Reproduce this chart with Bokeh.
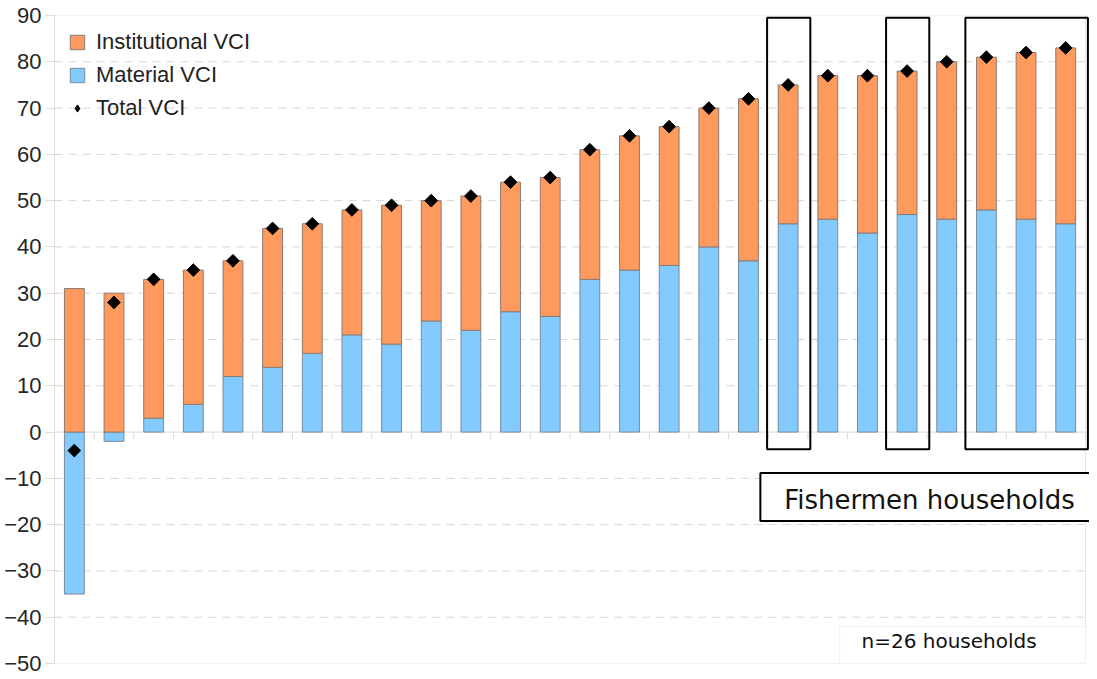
import math
from bokeh.plotting import figure
from bokeh.models import Range1d, LegendItem, Legend, Label, FixedTicker
from bokeh.embed import file_html
from bokeh.resources import INLINE

# ---- data ----
households = list(range(1, 27))
material = [-35, -2, 3, 6, 12, 14, 17, 21, 19, 24, 22, 26, 25, 33, 35, 36, 40, 37,
            45, 46, 43, 47, 46, 48, 46, 45]
total = [-4, 28, 33, 35, 37, 44, 45, 48, 49, 50, 51, 54, 55, 61, 64, 66, 70, 72,
         75, 77, 77, 78, 80, 81, 82, 83]
institutional = [t - m for t, m in zip(total, material)]
y_ticks = list(range(-50, 100, 10))
fishermen_groups = [(19, 19), (22, 22), (24, 26)]

inst_bottom = [max(m, 0) for m in material]
inst_top = [b + i for b, i in zip(inst_bottom, institutional)]

ORANGE = "#ff9a5e"
BLUE = "#83caff"
FONT = "Liberation Sans"

n = len(households)
x_lo, x_hi = 0.5, n + 0.5

p = figure(width=1089, height=677, output_backend="svg", toolbar_location=None,
           x_range=Range1d(0.5, 26.6), y_range=Range1d(-50, 90),
           x_axis_location=None, min_border_left=54, min_border_right=0,
           min_border_top=15, min_border_bottom=14)
p.outline_line_color = None
p.xgrid.visible = False
p.ygrid.visible = False
p.background_fill_color = "white"

# y axis
ax = p.yaxis[0]
ax.ticker = FixedTicker(ticks=y_ticks)
ax.axis_line_color = "#dcdcdc"
ax.major_tick_line_color = "#dcdcdc"
ax.major_tick_out = 9
ax.major_tick_in = 0
ax.minor_tick_line_color = None
ax.major_label_standoff = 4
ax.major_label_text_font = FONT
ax.major_label_text_font_size = "22px"
ax.major_label_text_color = "#262626"

# grid lines
dashed = [y for y in y_ticks if y not in (y_ticks[0], 0, y_ticks[-1])]
p.segment(x0=[x_lo] * len(dashed), x1=[x_hi] * len(dashed), y0=dashed, y1=dashed,
          line_color="#d6d6d6", line_dash="8 6", line_width=1)
solid = [y_ticks[0], y_ticks[-1]]
p.segment(x0=[x_lo] * 2, x1=[x_hi] * 2, y0=solid, y1=solid,
          line_color="#e6e6e6", line_width=1)
p.segment(x0=[x_hi], x1=[x_hi], y0=[y_ticks[0]], y1=[y_ticks[-1]],
          line_color="#e6e6e6", line_width=1)

# zero axis with category ticks
p.segment(x0=[x_lo], x1=[x_hi], y0=[0], y1=[0], line_color="#d9d9d9", line_width=1)
bounds = [x_lo + k for k in range(n + 1)]
p.segment(x0=bounds, x1=bounds, y0=[0] * len(bounds), y1=[-1.5] * len(bounds),
          line_color="#e2d6d6", line_width=1)

# bars
r_mat = p.vbar(x=households, width=0.5, bottom=0, top=material,
               fill_color=BLUE, line_color="#7a8a99", line_width=1)
r_inst = p.vbar(x=households, width=0.5, bottom=inst_bottom, top=inst_top,
                fill_color=ORANGE, line_color="#8a7a70", line_width=1)
p.scatter(x=households, y=total, marker="square", size=9, angle=math.pi / 4,
          fill_color="black", line_color="black")
# legend proxy for the total marker (not drawn in the plot area)
r_tot_leg = p.scatter(x=[math.nan], y=[math.nan], marker="diamond", size=18,
                      fill_color="black", line_color="black")

# fishermen highlight boxes
p.quad(left=[a - 0.53 for a, b in fishermen_groups],
       right=[b + 0.56 for a, b in fishermen_groups],
       bottom=[-3.7] * len(fishermen_groups), top=[89.5] * len(fishermen_groups),
       fill_color=None, line_color="black", line_width=2)

p.quad(left=[18.3], right=[27.2], bottom=[-19.2], top=[-8.84],
       fill_color="white", line_color="black", line_width=2)
p.add_layout(Label(x=18.9, y=-14.6, text="Fishermen households",
                   text_font="DejaVu Sans", text_font_size="26px",
                   text_color="#111111", text_baseline="alphabetic"))

p.quad(left=[20.3], right=[x_hi], bottom=[-50], top=[-42],
       fill_color="white", line_color="#f0f0f0", line_width=1)
p.add_layout(Label(x=20.85, y=-45.1, text="n=26 households",
                   text_font="DejaVu Sans", text_font_size="20px",
                   text_color="#111111", text_baseline="alphabetic"))

legend = Legend(items=[LegendItem(label="Institutional VCI", renderers=[r_inst]),
                       LegendItem(label="Material VCI", renderers=[r_mat]),
                       LegendItem(label="Total VCI", renderers=[r_tot_leg])],
                location="top_left", margin=14, padding=10, spacing=7,
                glyph_width=18, glyph_height=18, label_height=18,
                label_standoff=10, border_line_color=None,
                background_fill_alpha=0.0,
                label_text_font=FONT, label_text_font_size="22px",
                label_text_color="#222222")
p.add_layout(legend)

open("out.html", "w").write(file_html(p, INLINE))
